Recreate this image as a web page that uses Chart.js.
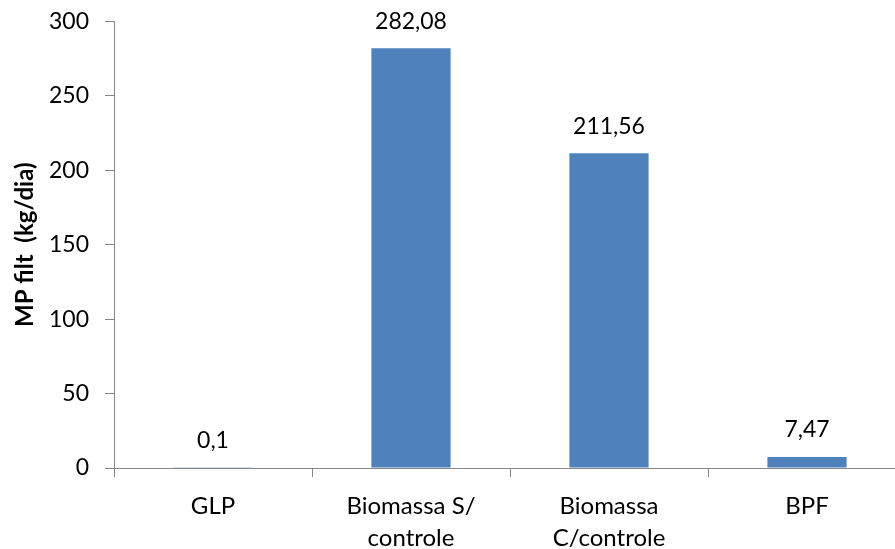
<!DOCTYPE html>
<html>
<head>
<meta charset="utf-8">
<script src="https://cdn.jsdelivr.net/npm/chart.js@4/dist/chart.umd.min.js"></script>
<style>
  html, body { margin: 0; padding: 0; overflow: hidden; background: #fff; }
  #wrap { width: 906px; height: 549px; }
</style>
</head>
<body>
<div id="wrap"><canvas id="c" width="906" height="549"></canvas></div>
<script>
// Filtered particulate matter per fuel scenario
const categories = ["GLP", ["Biomassa S/", "controle"], ["Biomassa", "C/controle"], "BPF"];
const values = [0.1, 282.08, 211.56, 7.47];
const yTicks = [0, 50, 100, 150, 200, 250, 300];

const FONT = "Lato, 'Open Sans', sans-serif";
const AXIS_GREY = "#868686";

// Value labels above each bar, decimal comma
const valueLabels = {
  id: "valueLabels",
  afterDatasetsDraw(chart) {
    const ctx = chart.ctx;
    const meta = chart.getDatasetMeta(0);
    ctx.save();
    ctx.font = "23px " + FONT;
    ctx.fillStyle = "#000";
    ctx.textAlign = "center";
    ctx.textBaseline = "middle";
    meta.data.forEach((bar, i) => {
      const txt = String(values[i]).replace(".", ",");
      ctx.fillText(txt, bar.x, bar.y - 27);
    });
    ctx.restore();
  }
};

new Chart(document.getElementById("c"), {
  type: "bar",
  data: {
    labels: categories,
    datasets: [{
      data: values,
      backgroundColor: "#4F81BD",
      borderWidth: 0,
      barPercentage: 0.4,
      categoryPercentage: 1.0
    }]
  },
  options: {
    responsive: false,
    animation: false,
    devicePixelRatio: 1,
    layout: { padding: { top: 21.5, right: 0, bottom: 0, left: 0 } },
    plugins: { legend: { display: false }, tooltip: { enabled: false } },
    scales: {
      x: {
        offset: true,
        grid: { offset: true, drawOnChartArea: false, drawTicks: true, tickLength: 9, color: AXIS_GREY, lineWidth: 1 },
        border: { display: true, color: AXIS_GREY, width: 1 },
        ticks: { color: "#000", font: { family: FONT, size: 24, lineHeight: 1.33 }, padding: 13, maxRotation: 0, autoSkip: false },
        afterFit(scale) { scale.height = 81; }
      },
      y: {
        min: 0, max: 300,
        afterBuildTicks(scale) { scale.ticks = yTicks.map(v => ({ value: v })); },
        grid: { drawOnChartArea: false, drawTicks: true, tickLength: 9, color: AXIS_GREY, lineWidth: 1 },
        border: { display: true, color: AXIS_GREY, width: 1 },
        ticks: { color: "#000", font: { family: FONT, size: 23 }, padding: 16 },
        title: { display: true, text: "MP filt  (kg/dia)", color: "#000", font: { family: FONT, size: 24, weight: "bold" }, padding: { top: 11, bottom: 0 } },
        afterFit(scale) {
          scale.width = 114;
          scale.paddingTop = 0;
          scale.paddingBottom = 0;
        }
      }
    }
  },
  plugins: [valueLabels]
});
</script>
</body>
</html>
